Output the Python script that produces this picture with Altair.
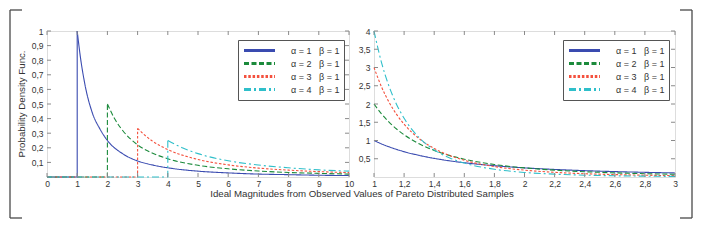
import altair as alt
import pandas as pd

FONT = "Liberation Sans"
NB = "\u00a0"

# ---- series labels / styles ----
ALPHAS = [1, 2, 3, 4]
LABELS = [f"α{NB}={NB}{a}{NB}{NB}{NB}β{NB}={NB}1" for a in ALPHAS]
COLORS = ["#3a4bb0", "#1b8a3b", "#f4513e", "#2fbfca"]
DASHES = [[1, 0], [5, 2.5], [2.5, 1.8], [7, 3, 2, 3]]

# ---- left panel: curves (x >= alpha) ----
L_X1 = [1, 1.1, 1.25, 1.5, 1.75, 2, 2.5, 3, 3.5, 4, 5, 6, 7, 8, 9, 10]
L_Y1 = [1, 0.83, 0.64, 0.44, 0.33, 0.25, 0.16, 0.11, 0.082, 0.063, 0.04, 0.028, 0.02, 0.016, 0.012, 0.01]
L_X2 = [2, 2.25, 2.5, 3, 3.5, 4, 5, 6, 7, 8, 9, 10]
L_Y2 = [0.5, 0.395, 0.32, 0.22, 0.163, 0.125, 0.08, 0.056, 0.041, 0.031, 0.025, 0.02]
L_X3 = [3, 3.25, 3.5, 4, 5, 6, 7, 8, 9, 10]
L_Y3 = [0.333, 0.284, 0.245, 0.188, 0.12, 0.083, 0.061, 0.047, 0.037, 0.03]
L_X4 = [4, 4.5, 5, 6, 7, 8, 9, 10]
L_Y4 = [0.25, 0.198, 0.16, 0.111, 0.082, 0.063, 0.049, 0.04]
# jump position and height for each curve (zero before it)
L_JUMP_X = [1, 2, 3, 4]
L_JUMP_TOP = [1, 0.5, 0.333, 0.25]

# ---- right panel ----
R_X = [1, 1.05, 1.1, 1.15, 1.2, 1.3, 1.4, 1.5, 1.6, 1.8, 2, 2.2, 2.4, 2.6, 2.8, 3]
R_Y1 = [1, 0.907, 0.826, 0.756, 0.694, 0.592, 0.51, 0.444, 0.391, 0.309, 0.25, 0.207, 0.174, 0.148, 0.128, 0.111]
R_Y2 = [2, 1.728, 1.503, 1.315, 1.157, 0.91, 0.729, 0.593, 0.488, 0.343, 0.25, 0.188, 0.145, 0.114, 0.091, 0.074]
R_Y3 = [3, 2.468, 2.049, 1.715, 1.447, 1.05, 0.781, 0.593, 0.458, 0.286, 0.188, 0.128, 0.09, 0.066, 0.049, 0.037]
R_Y4 = [4, 3.134, 2.484, 1.989, 1.608, 1.077, 0.744, 0.527, 0.381, 0.212, 0.125, 0.078, 0.05, 0.034, 0.023, 0.016]

# ---- ticks ----
L_XTICKS = [0, 1, 2, 3, 4, 5, 6, 7, 8, 9, 10]
L_YTICKS = [0.1, 0.2, 0.3, 0.4, 0.5, 0.6, 0.7, 0.8, 0.9, 1]
R_XTICKS = [1, 1.2, 1.4, 1.6, 1.8, 2, 2.2, 2.4, 2.6, 2.8, 3]
R_YTICKS = [0.5, 1, 1.5, 2, 2.5, 3, 3.5, 4]

XTITLE = "Ideal Magnitudes from Observed Values of Pareto Distributed Samples"
YTITLE = "Probability Density Func."

W1, W2, H = 302, 301, 146
TICK = 4
LBL_EXPR = "replace(format(datum.value, '~g'), '.', ',')"


def long_df(xs_list, ys_list):
    rows = []
    for lab, xs, ys in zip(LABELS, xs_list, ys_list):
        for x, y in zip(xs, ys):
            rows.append({"x": x, "y": y, "s": lab})
    return pd.DataFrame(rows)


left_curves = long_df([L_X1, L_X2, L_X3, L_X4], [L_Y1, L_Y2, L_Y3, L_Y4])
jrows = []
for lab, jx, jt in zip(LABELS, L_JUMP_X, L_JUMP_TOP):
    jrows += [{"x": 0, "y": 0, "s": lab, "o": 0},
              {"x": jx, "y": 0, "s": lab, "o": 1},
              {"x": jx, "y": jt, "s": lab, "o": 2}]
left_jumps = pd.DataFrame(jrows)
right_curves = long_df([R_X] * 4, [R_Y1, R_Y2, R_Y3, R_Y4])


def axis(vals, pad):
    return alt.Axis(values=vals, ticks=False, domain=False, grid=False,
                    labelExpr=LBL_EXPR, labelFontSize=8.5, labelFont=FONT,
                    labelColor="#333333", labelPadding=pad, labelFlush=False,
                    labelOverlap=False, title=None)


def panel(curves, jumps, xdom, ydom, xt, yt, W, lx, extras):
    X = alt.X("x:Q", scale=alt.Scale(domain=xdom, nice=False, zero=False), axis=axis(xt, 2))
    Y = alt.Y("y:Q", scale=alt.Scale(domain=ydom, nice=False, zero=False), axis=axis(yt, 4))
    leg = alt.Legend(orient="none", legendX=lx, legendY=9, title=None,
                     symbolType="M-3.1,0H3.1", symbolSize=100, symbolStrokeWidth=3,
                     symbolOffset=11, labelOffset=25,
                     labelFontSize=9, labelFont=FONT, labelColor="#333333",
                     strokeColor="#555555", fillColor="white", padding=4,
                     rowPadding=0, cornerRadius=0)
    C = alt.Color("s:N", scale=alt.Scale(domain=LABELS, range=COLORS), legend=leg)
    D = alt.StrokeDash("s:N", scale=alt.Scale(domain=LABELS, range=DASHES), legend=leg)

    layers = []
    layers.append(alt.Chart(curves).mark_line(interpolate="monotone", strokeWidth=1.1)
                  .encode(x=X, y=Y, color=C, strokeDash=D))
    if jumps is not None:
        layers.append(alt.Chart(jumps).mark_line(strokeWidth=1.1)
                      .encode(x=X, y=Y, color=C, strokeDash=D, order="o:Q"))
    xtd = pd.DataFrame({"x": xt})
    ytd = pd.DataFrame({"y": yt})
    tc = "#8a8a8a"
    layers.append(alt.Chart(xtd).mark_rule(color=tc, strokeWidth=1)
                  .encode(x=X, y=alt.value(H), y2=alt.value(H - TICK)))
    layers.append(alt.Chart(xtd).mark_rule(color=tc, strokeWidth=1)
                  .encode(x=X, y=alt.value(0), y2=alt.value(TICK)))
    layers.append(alt.Chart(ytd).mark_rule(color=tc, strokeWidth=1)
                  .encode(y=Y, x=alt.value(0), x2=alt.value(TICK)))
    layers.append(alt.Chart(ytd).mark_rule(color=tc, strokeWidth=1)
                  .encode(y=Y, x=alt.value(W - TICK), x2=alt.value(W)))
    layers += extras
    return alt.layer(*layers).properties(width=W, height=H)


one = pd.DataFrame({"k": [0]})
BR = "#4a4a4a"
BX, BT, BB = -37, -21, 187
left_extras = [
    alt.Chart(one).mark_rule(color=BR, strokeWidth=1.3).encode(
        x=alt.value(BX), y=alt.value(BT), y2=alt.value(BB)),
    alt.Chart(one).mark_rule(color=BR, strokeWidth=1.3).encode(
        x=alt.value(BX), x2=alt.value(BX + 12), y=alt.value(BT)),
    alt.Chart(one).mark_rule(color=BR, strokeWidth=1.3).encode(
        x=alt.value(BX), x2=alt.value(BX + 12), y=alt.value(BB)),
    alt.Chart(pd.DataFrame({"t": [XTITLE]})).mark_text(
        font=FONT, fontSize=9.7, color="#333333", align="center", baseline="middle").encode(
        text="t:N", x=alt.value(315), y=alt.value(163)),
    alt.Chart(pd.DataFrame({"t": [YTITLE]})).mark_text(
        font=FONT, fontSize=9.7, color="#333333", align="center", baseline="middle",
        angle=270).encode(text="t:N", x=alt.value(-25), y=alt.value(73)),
]
RX = 318
right_extras = [
    alt.Chart(one).mark_rule(color=BR, strokeWidth=1.3).encode(
        x=alt.value(RX), y=alt.value(BT), y2=alt.value(BB)),
    alt.Chart(one).mark_rule(color=BR, strokeWidth=1.3).encode(
        x=alt.value(RX - 12), x2=alt.value(RX), y=alt.value(BT)),
    alt.Chart(one).mark_rule(color=BR, strokeWidth=1.3).encode(
        x=alt.value(RX - 12), x2=alt.value(RX), y=alt.value(BB)),
]

left = panel(left_curves, left_jumps, [0, 10], [0, 1], L_XTICKS, L_YTICKS, W1, 191, left_extras)
right = panel(right_curves, None, [1, 3], [0, 4], R_XTICKS, R_YTICKS, W2, 189, right_extras)

chart = (alt.hconcat(left, right, spacing=25, bounds="flush")
         .resolve_scale(x="independent", y="independent",
                        color="independent", strokeDash="independent")
         .properties(padding=0)
         .configure_view(stroke="#9a9a9a", strokeWidth=1)
         .configure(background="white"))

chart.save("out.html", embed_options={"renderer": "svg", "actions": False})
